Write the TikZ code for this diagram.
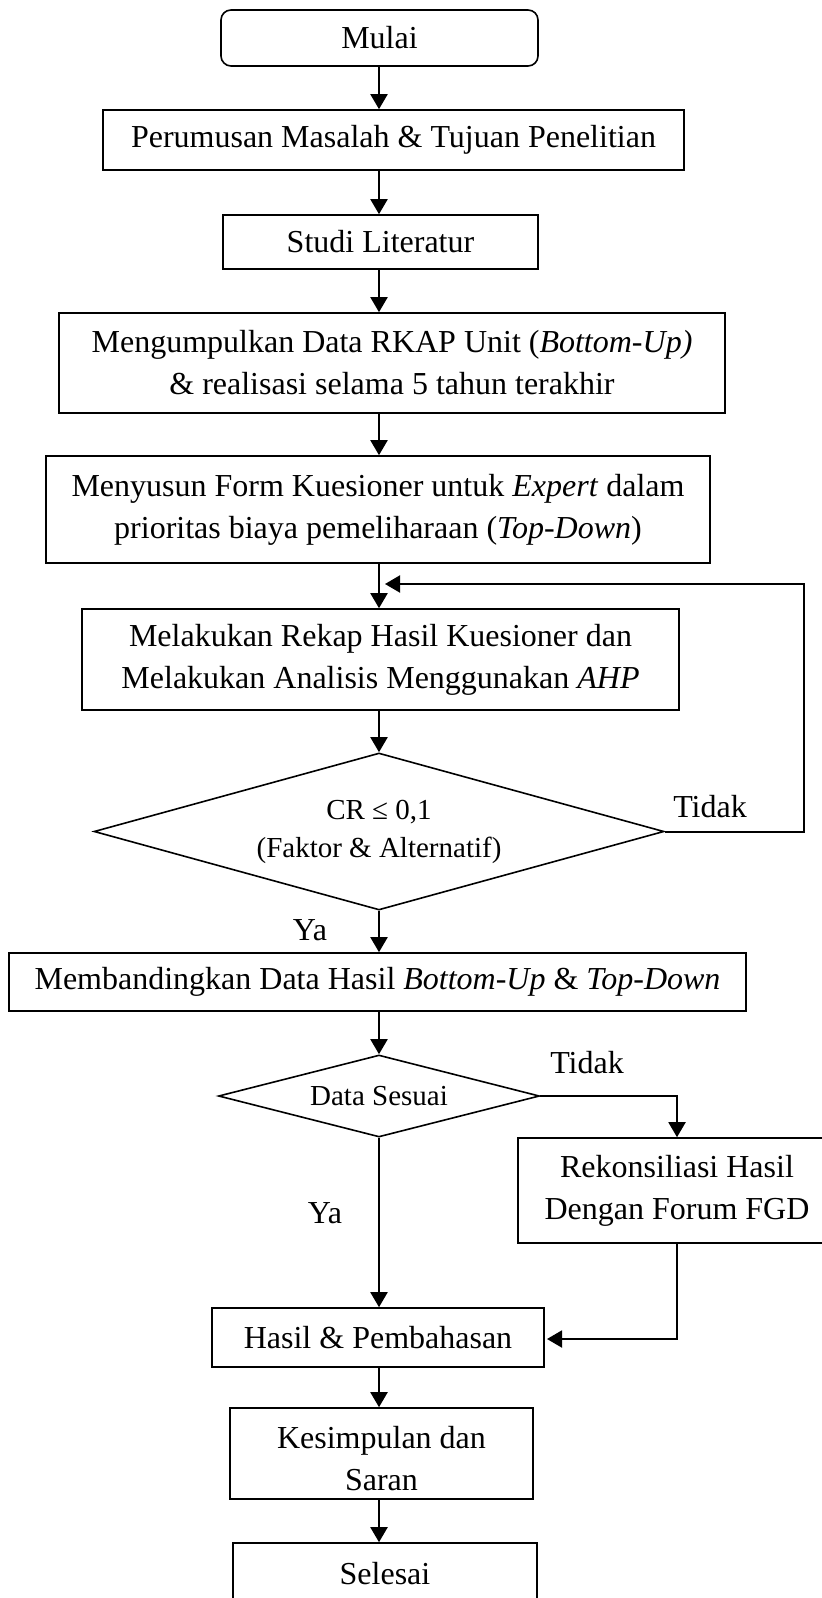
\documentclass[tikz,border=0pt]{standalone}
\usepackage{fontspec}
\setmainfont{Liberation Serif}
\usetikzlibrary{shapes.geometric,arrows.meta,calc}
\newcommand\mainsz{\fontsize{16pt}{21pt}\selectfont}
\newcommand\smallsz{\fontsize{14.5pt}{19pt}\selectfont}
\begin{document}
\begin{tikzpicture}[x=0.5pt,y=-0.5pt,
  box/.style 2 args={draw,line width=0.8pt,rectangle,align=center,inner sep=0pt,
    font=\mainsz,minimum width=#1*0.5pt,minimum height=#2*0.5pt},
  dec/.style n args={3}{draw,line width=0.8pt,shape=diamond,aspect=#3,align=center,inner sep=0pt,
    font=\smallsz,minimum width=#1*0.5pt,minimum height=#2*0.5pt},
  lbl/.style={font=\mainsz,inner sep=0pt},
  arr/.style={-{Triangle[length=7.5pt,width=8.5pt]},line width=1pt}]
\useasboundingbox (0,0) rectangle (821,1598);
\coordinate (ax) at (379,0);

\node[box={317}{56},rounded corners=5pt] (mulai) at (379.5,38) {Mulai};
\node[box={581}{60}] (rumus) at (393.5,140) {Perumusan Masalah \& Tujuan Penelitian};
\node[box={315}{54}] (studi) at (380.5,242) {Studi Literatur};
\node[box={666}{100}] (kumpul) at (392,363) {Mengumpulkan Data RKAP Unit (\textit{Bottom-Up)}\\\& realisasi selama 5 tahun terakhir};
\node[box={664}{107}] (susun) at (378,509.5) {Menyusun Form Kuesioner untuk \textit{Expert} dalam\\prioritas biaya pemeliharaan (\textit{Top-Down})};
\node[box={597}{101}] (rekap) at (380.5,659.5) {Melakukan Rekap Hasil Kuesioner dan\\Melakukan Analisis Menggunakan \textit{AHP}};
\node[dec={570}{157}{3.63}] (cr) at (379,831.5) {CR ≤ 0,1\\(Faktor \& Alternatif)};
\node[box={737}{58}] (banding) at (377.5,982) {Membandingkan Data Hasil \textit{Bottom-Up} \& \textit{Top-Down}};
\node[dec={321}{82}{3.9}] (sesuai) at (379,1096) {Data Sesuai};
\node[box={318}{105}] (rekon) at (677,1190.5) {Rekonsiliasi Hasil\\Dengan Forum FGD};
\node[box={332}{59}] (hasil) at (378,1337.5) {Hasil \& Pembahasan};
\node[box={303}{91}] (simpul) at (381.5,1453.5) {\rule{0pt}{16pt}Kesimpulan dan\\Saran};
\node[box={304}{62}] (selesai) at (385,1574) {Selesai};

\draw[arr] (mulai.south -| ax) -- (rumus.north -| ax);
\draw[arr] (rumus.south -| ax) -- (studi.north -| ax);
\draw[arr] (studi.south -| ax) -- (kumpul.north -| ax);
\draw[arr] (kumpul.south -| ax) -- (susun.north -| ax);
\draw[arr] (susun.south -| ax) -- (rekap.north -| ax);
\draw[arr] (rekap.south -| ax) -- (cr.north);
\draw[arr] (cr.south) -- (banding.north -| ax);
\draw[arr] (banding.south -| ax) -- (sesuai.north);
\draw[arr] (sesuai.south) -- (hasil.north -| ax);
\draw[arr] (hasil.south -| ax) -- (simpul.north -| ax);
\draw[arr] (simpul.south -| ax) -- (selesai.north -| ax);

\coordinate (fbr) at (804,831.5);
\coordinate (fbt) at (804,584);
\coordinate (fbend) at (385,584);
\draw[arr] (cr.east) -- (fbr) -- (fbt) -- (fbend);

\coordinate (s1) at (677,1096);
\draw[arr] (sesuai.east) -- (s1) -- (rekon.north);
\coordinate (r1) at (677,1339);
\coordinate (r2) at (547,1339);
\draw[arr] (rekon.south) -- (r1) -- (r2);

\node[lbl] (t1) at (710,807) {Tidak};
\node[lbl] (y1) at (310,930) {Ya};
\node[lbl] (t2) at (587,1063) {Tidak};
\node[lbl] (y2) at (325,1213) {Ya};
\end{tikzpicture}
\end{document}
